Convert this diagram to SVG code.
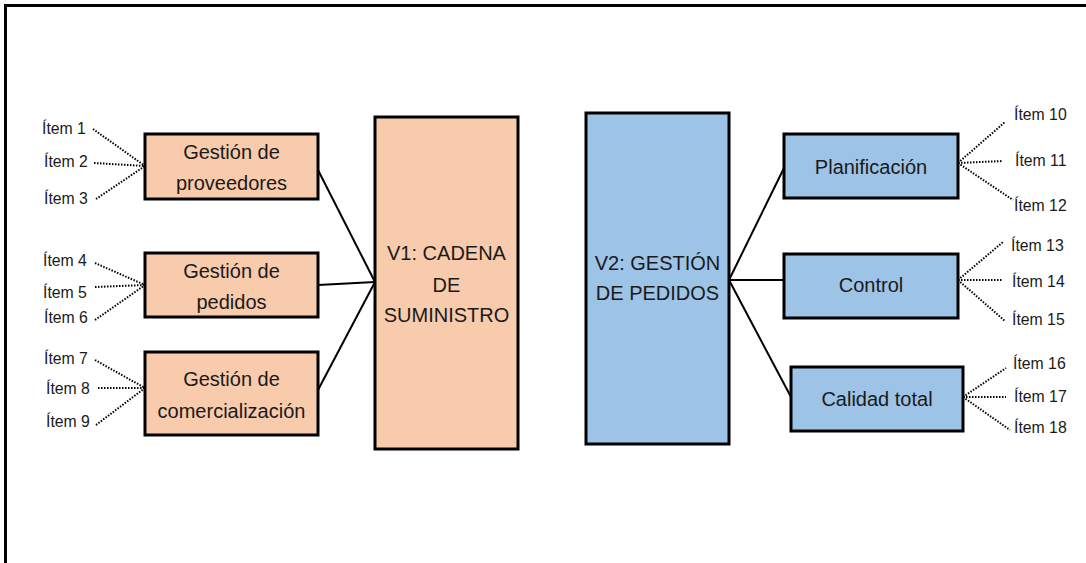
<svg xmlns="http://www.w3.org/2000/svg" width="1086" height="563" viewBox="0 0 1086 563">
<style>
.bg{fill:#ffffff}
.frame{fill:none;stroke:#000;stroke-width:3}
.peach{fill:#F8CBAD;stroke:#000;stroke-width:3}
.blue{fill:#9DC3E6;stroke:#000;stroke-width:3}
.lbl{font-family:"Liberation Sans",Arial,sans-serif;font-size:20px;fill:#1a1a1a;text-anchor:middle}
.item{font-family:"Liberation Sans",Arial,sans-serif;font-size:15.8px;fill:#1a1a1a}
.solid{stroke:#000;stroke-width:2;fill:none}
.dot{stroke:#000;stroke-width:2;stroke-dasharray:1.5 1.5;fill:none}
</style>
<rect class="bg" x="0" y="0" width="1086" height="563"/>
<path class="frame" d="M5.5 563 V5.5 H1086"/>
<g id="connectors">
<line class="solid" x1="318" y1="170" x2="375" y2="282"/>
<line class="solid" x1="318" y1="285" x2="375" y2="282"/>
<line class="solid" x1="318" y1="390" x2="375" y2="282"/>
<line class="solid" x1="729" y1="280" x2="784" y2="168"/>
<line class="solid" x1="729" y1="280" x2="784" y2="280"/>
<line class="solid" x1="729" y1="280" x2="791" y2="397"/>
<line class="dot" x1="93" y1="129" x2="145" y2="166"/>
<line class="dot" x1="94" y1="163" x2="145" y2="166"/>
<line class="dot" x1="96" y1="199" x2="145" y2="166"/>
<line class="dot" x1="95" y1="263" x2="145" y2="285"/>
<line class="dot" x1="95" y1="287" x2="145" y2="285"/>
<line class="dot" x1="95" y1="320" x2="145" y2="285"/>
<line class="dot" x1="95" y1="360" x2="145" y2="388"/>
<line class="dot" x1="98" y1="388" x2="145" y2="388"/>
<line class="dot" x1="96" y1="425" x2="145" y2="388"/>
<line class="dot" x1="958" y1="163" x2="1005" y2="122"/>
<line class="dot" x1="958" y1="163" x2="1003" y2="161"/>
<line class="dot" x1="958" y1="163" x2="1013" y2="200"/>
<line class="dot" x1="958" y1="280" x2="1003" y2="242"/>
<line class="dot" x1="958" y1="280" x2="1003" y2="280"/>
<line class="dot" x1="958" y1="280" x2="1005" y2="321"/>
<line class="dot" x1="963" y1="397" x2="1006" y2="368"/>
<line class="dot" x1="963" y1="397" x2="1006" y2="397"/>
<line class="dot" x1="963" y1="397" x2="1010" y2="430"/>
</g>
<g id="prov"><rect class="peach" x="145" y="134" width="173" height="65"/><text class="lbl" x="231.5" y="159">Gestión de</text><text class="lbl" x="231.5" y="190">proveedores</text></g>
<g id="ped"><rect class="peach" x="145" y="253" width="173" height="64"/><text class="lbl" x="231.5" y="278">Gestión de</text><text class="lbl" x="231.5" y="309">pedidos</text></g>
<g id="com"><rect class="peach" x="145" y="352" width="173" height="83"/><text class="lbl" x="231.5" y="386">Gestión de</text><text class="lbl" x="231.5" y="418">comercialización</text></g>
<g id="v1"><rect class="peach" x="375" y="117" width="143" height="332"/><text class="lbl" x="446.5" y="260">V1: CADENA</text><text class="lbl" x="446.5" y="292">DE</text><text class="lbl" x="446.5" y="322">SUMINISTRO</text></g>
<g id="v2"><rect class="blue" x="586" y="113" width="143" height="331"/><text class="lbl" x="657.5" y="270">V2: GESTIÓN</text><text class="lbl" x="657.5" y="300">DE PEDIDOS</text></g>
<g id="plan"><rect class="blue" x="784" y="134" width="174" height="64"/><text class="lbl" x="871" y="174">Planificación</text></g>
<g id="ctrl"><rect class="blue" x="784" y="254" width="174" height="64"/><text class="lbl" x="871" y="292">Control</text></g>
<g id="cal"><rect class="blue" x="791" y="367" width="172" height="64"/><text class="lbl" x="877" y="406">Calidad total</text></g>
<g id="items">
<text class="item" x="42" y="134">Ítem 1</text>
<text class="item" x="44" y="167">Ítem 2</text>
<text class="item" x="44" y="204">Ítem 3</text>
<text class="item" x="43" y="266">Ítem 4</text>
<text class="item" x="43" y="298">Ítem 5</text>
<text class="item" x="44" y="323">Ítem 6</text>
<text class="item" x="44" y="364">Ítem 7</text>
<text class="item" x="46" y="394">Ítem 8</text>
<text class="item" x="46" y="427">Ítem 9</text>
<text class="item" x="1014" y="120">Ítem 10</text>
<text class="item" x="1015" y="166">Ítem 11</text>
<text class="item" x="1014" y="211">Ítem 12</text>
<text class="item" x="1011" y="251">Ítem 13</text>
<text class="item" x="1012" y="287">Ítem 14</text>
<text class="item" x="1012" y="325">Ítem 15</text>
<text class="item" x="1013" y="369">Ítem 16</text>
<text class="item" x="1014" y="402">Ítem 17</text>
<text class="item" x="1014" y="433">Ítem 18</text>
</g>
</svg>
